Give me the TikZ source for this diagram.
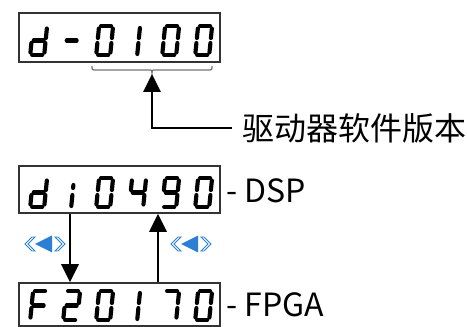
\documentclass[tikz,border=0pt]{standalone}
\usepackage{fontspec}
\setmainfont{Noto Sans CJK SC}
\usetikzlibrary{arrows.meta}

\definecolor{markblue}{HTML}{2B80D6}

% segments of one digit cell, origin at the bottom left
\def\segpatha{(4,-31) -- (14,-31)}
\def\segpathb{(16,-28.5) -- (16,-19)}
\def\segpathc{(16,-14) -- (16,-4.5)}
\def\segpathd{(4,-2) -- (14,-2)}
\def\segpathe{(2,-14) -- (2,-4.5)}
\def\segpathf{(2,-28.5) -- (2,-19)}
\def\segpathg{(4,-16.5) -- (14,-16.5)}
\def\segpathm{(10,-29) -- (10,-19)}
\def\segpathn{(10,-14) -- (10,-3)}
\def\segpathp{(10,-24) -- (10,-21)}

\tikzset{
  seg/.style={line width=3.1pt, line cap=round},
  dispbox/.style={draw=black!80, line width=1.3pt, minimum width=150.75pt, inner sep=0pt},
  conn/.style={line width=1.5pt, -{Triangle[width=13pt,length=13.5pt]}},
  lbl/.style={font=\fontsize{24}{24}\selectfont, inner sep=0pt, anchor=west},
  pics/swapmark/.style={code={
    \draw[markblue, line width=0.6pt] (0,0) -- (7,-7) -- (10,-7) -- (3,0) -- (10,7) -- (7,7) -- cycle;
    \fill[markblue] (10,0) -- (27,-8.5) -- (27,8.5) -- cycle;
    \draw[markblue, line width=0.6pt] (40,0) -- (33,-7) -- (30,-7) -- (37,0) -- (30,7) -- (33,7) -- cycle;
  }}
}

\newcommand{\sevseg}[3]{%
  \begin{scope}[shift={(#1,#2)}, xslant=0.1]
    \foreach \s in #3 {\expandafter\let\expandafter\segpath\csname segpath\s\endcsname
      \draw[seg] \segpath;}
  \end{scope}}

\begin{document}
\begin{tikzpicture}[x=0.75pt, y=-0.75pt]
  \useasboundingbox (0,0) rectangle (467,327);

  % the three displays
  \node[dispbox, minimum height=36.75pt] (verbox) at (119.5,37.5) {};
  \node[dispbox, minimum height=35.25pt] (dspbox) at (119.5,189.5) {};
  \node[dispbox, minimum height=32.25pt] (fpgabox) at (119.5,304.5) {};

  \foreach \cx/\dg in {28/{b,c,d,e,g}, 61/{g}, 94/{a,b,c,d,e,f}, 127/{m,n}, 160/{a,b,c,d,e,f}, 193/{a,b,c,d,e,f}}
    {\sevseg{\cx}{57}{\dg}}
  \foreach \cx/\dg in {28/{b,c,d,e,g}, 61/{p,n}, 94/{a,b,c,d,e,f}, 127/{b,c,f,g}, 160/{a,b,c,d,f,g}, 193/{a,b,c,d,e,f}}
    {\sevseg{\cx}{209}{\dg}}
  \foreach \cx/\dg in {28/{a,e,f,g}, 61/{a,b,g,e,d}, 94/{a,b,c,d,e,f}, 127/{m,n}, 160/{a,b,c}, 193/{a,b,c,d,e,f}}
    {\sevseg{\cx}{322}{\dg}}

  % labels
  \node[lbl] (vertxt) at (242,128) {驱动器软件版本};
  \node[lbl] (dsptxt) at (226,191) {- DSP};
  \node[lbl] (fpgatxt) at (226,305) {- FPGA};

  % brace under the version digits
  \draw[black!55, line width=0.9pt] (92,66) .. controls (92,70) .. (96,70) -- (148,70)
    .. controls (152,70) .. (152,73) .. controls (152,70) .. (156,70) -- (208,70)
    .. controls (212,70) .. (212,66);
  \coordinate (bracetip) at (152,74);
  \draw[conn] ([xshift=-7.5pt]vertxt.west) -| (bracetip);

  % switching between the two displays
  \coordinate (downcol) at (70,0);
  \coordinate (upcol) at (158,0);
  \draw[conn] (dspbox.south -| downcol) -- (fpgabox.north -| downcol);
  \draw[conn] (fpgabox.north -| upcol) -- (dspbox.south -| upcol);
  \pic at (25,244) {swapmark};
  \pic at (171,244) {swapmark};
\end{tikzpicture}
\end{document}
